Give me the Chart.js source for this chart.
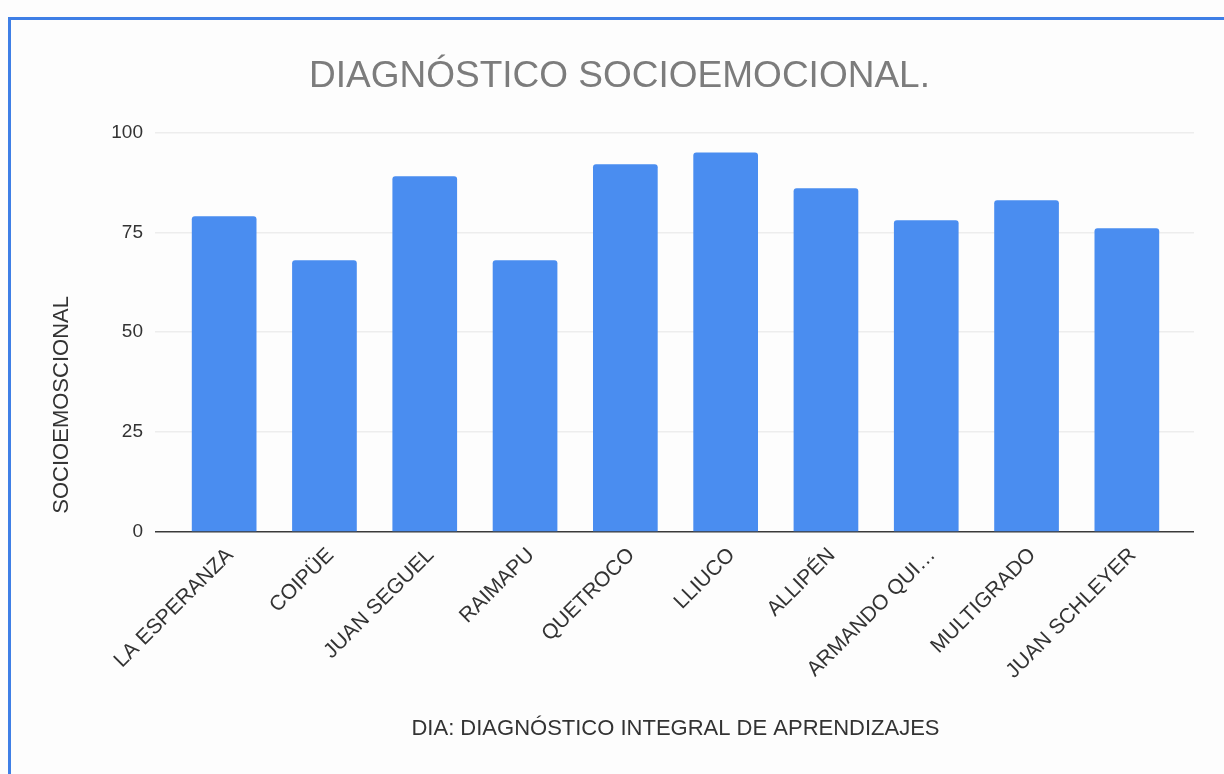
<!DOCTYPE html>
<html>
<head>
<meta charset="utf-8">
<script src="https://cdn.jsdelivr.net/npm/chart.js@4.4.1/dist/chart.umd.min.js"></script>
<style>
  html, body { margin: 0; padding: 0; background: #fdfdfd; }
  #wrap { position: relative; width: 1224px; height: 774px; overflow: hidden; }
  #frame { position: absolute; left: 8px; top: 17px; width: 1260px; height: 800px;
           border: 3px solid #3f7fe6; box-sizing: border-box; }
  canvas { position: absolute; left: 0; top: 0; }
</style>
</head>
<body>
<div id="wrap">
  <div id="frame"></div>
  <canvas id="chart" width="1224" height="774"></canvas>
</div>
<script>
const schools = ["LA ESPERANZA", "COIPÜE", "JUAN SEGUEL", "RAIMAPU", "QUETROCO",
                 "LLIUCO", "ALLIPÉN", "ARMANDO QUI…", "MULTIGRADO", "JUAN SCHLEYER"];
const scores = [79, 68, 89, 68, 92, 95, 86, 78, 83, 76];
const yTicks = [0, 25, 50, 75, 100];

const FONT = "'Liberation Sans', Arial, sans-serif";

// baseline dark, other gridlines very light
function gridColor(c) {
    return c.tick && c.tick.value === 0 ? "#3a3a3a" : "#ededed";
}

var ctx = document.getElementById("chart");

new Chart(ctx, {
    type: "bar",
    data: {
        labels: schools,
        datasets: [{
            label: "SOCIOEMOSCIONAL",
            data: scores,
            backgroundColor: "#4a8df0",
            borderRadius: 3,
            borderSkipped: "bottom",
            barPercentage: 0.645,
            categoryPercentage: 1
        }]
    },
    options: {
        responsive: false,
        animation: false,
        layout: { padding: { left: 45, right: 30, top: 55, bottom: 28 } },
        plugins: {
            legend: { display: false },
            tooltip: { enabled: false },
            title: {
                display: true,
                text: "DIAGNÓSTICO SOCIOEMOCIONAL.",
                color: "#7c7c7c",
                font: { family: FONT, size: 37, weight: "normal" },
                padding: { top: 0, bottom: 33 }
            }
        },
        scales: {
            x: {
                grid: { display: false },
                border: { display: false },
                ticks: {
                    color: "#333",
                    font: { family: FONT, size: 21 },
                    maxRotation: 45,
                    minRotation: 45,
                    labelOffset: 6,
                    autoSkip: false
                },
                title: {
                    display: true,
                    text: "DIA: DIAGNÓSTICO INTEGRAL DE APRENDIZAJES",
                    color: "#333",
                    font: { family: FONT, size: 22 }
                },
                afterFit: function (scale) { scale.height = 214; }
            },
            y: {
                min: 0,
                max: 100,
                afterBuildTicks: function (scale) {
                    scale.ticks = yTicks.map(v => ({ value: v }));
                },
                grid: { color: gridColor, lineWidth: 1.5, drawTicks: true, tickLength: 19 },
                border: { display: false },
                ticks: {
                    color: "#333",
                    font: { family: FONT, size: 19 },
                    padding: 12
                },
                title: {
                    display: true,
                    text: "   SOCIOEMOSCIONAL",
                    align: "start",
                    color: "#333",
                    font: { family: FONT, size: 22 }
                },
                afterFit: function (scale) { scale.width = 129; }
            },
            yRight: {
                position: "right",
                min: 0,
                max: 100,
                afterBuildTicks: function (scale) {
                    scale.ticks = yTicks.map(v => ({ value: v }));
                },
                grid: { color: gridColor, lineWidth: 1.5, drawOnChartArea: false, drawTicks: true, tickLength: 17 },
                border: { display: false },
                ticks: { display: false },
                afterFit: function (scale) { scale.width = 17; }
            }
        }
    }
});
</script>
</body>
</html>
